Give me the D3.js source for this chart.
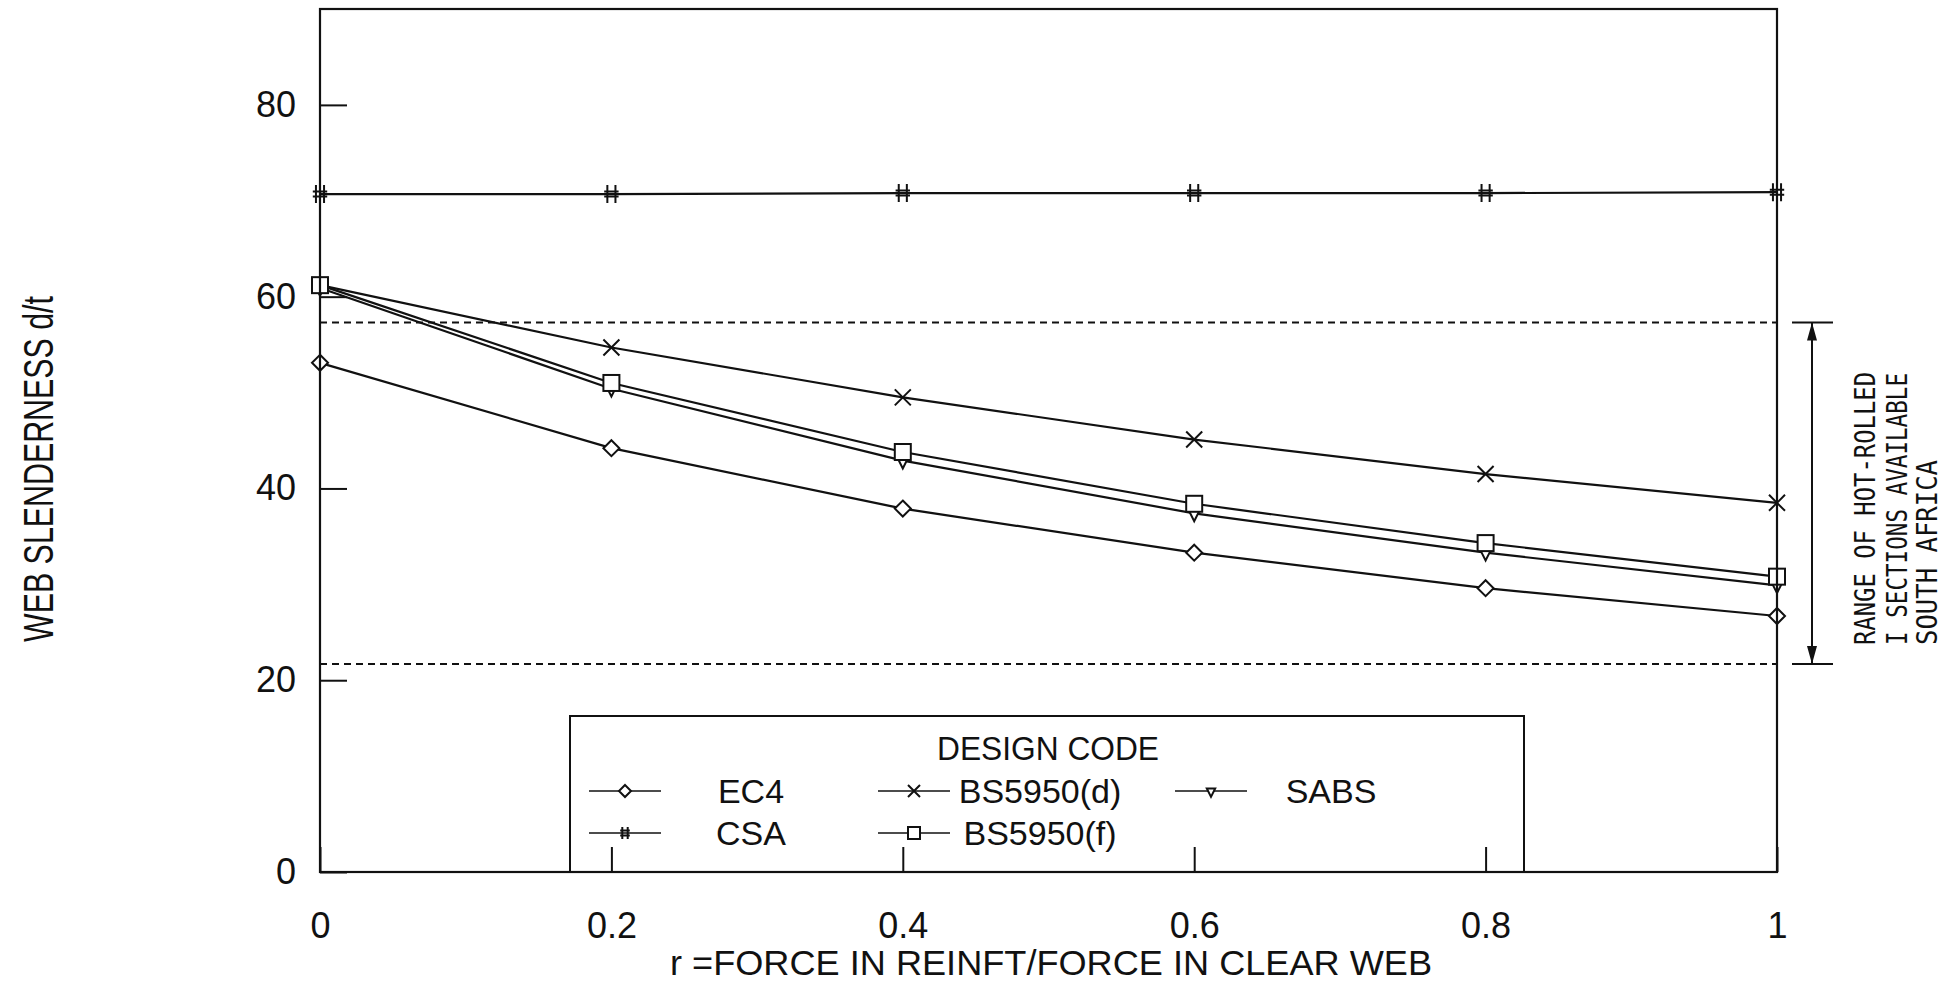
<!DOCTYPE html>
<html>
<head>
<meta charset="utf-8">
<script src="https://cdn.jsdelivr.net/npm/d3@7"></script>
<style>
  body { margin: 0; background: #fff; }
  text { font-family: "Liberation Sans", Arial, sans-serif; fill: #111; }
</style>
</head>
<body>
<script>
// Size of the page and the plot box
let w = 1956;
let h = 990;
let plotLeft = 320, plotRight = 1777, plotTop = 9, plotBottom = 872;

// Data
let rValues = [0, 0.2, 0.4, 0.6, 0.8, 1.0];
let ec4 = [53.1, 44.2, 37.9, 33.3, 29.6, 26.7];
let bs5950d = [61.2, 54.7, 49.5, 45.1, 41.5, 38.5];
let sabs = [60.9, 50.4, 42.9, 37.4, 33.3, 29.9];
let csa = [70.7, 70.7, 70.8, 70.8, 70.8, 70.9];
let bs5950f = [61.2, 51.0, 43.8, 38.4, 34.3, 30.8];

// Range of hot-rolled I sections (dashed lines)
let rangeLimits = [57.3, 21.7];

let xTicks = [0, 0.2, 0.4, 0.6, 0.8, 1];
let yTicks = [0, 20, 40, 60, 80];

let series = [
    { name: "CSA", values: csa, marker: "hash" },
    { name: "EC4", values: ec4, marker: "diamond" },
    { name: "BS5950(d)", values: bs5950d, marker: "cross" },
    { name: "SABS", values: sabs, marker: "triangle" },
    { name: "BS5950(f)", values: bs5950f, marker: "square" }
];

let ink = "#111";

let svg = d3.select("body")
    .append("svg")
    .attr("width", w)
    .attr("height", h);

svg.append("rect").attr("width", w).attr("height", h).attr("fill", "#fff");

let x = d3.scaleLinear().domain([0, 1]).range([plotLeft, plotRight]);
let y = d3.scaleLinear().domain([0, 90]).range([plotBottom, plotTop]);

// Draws one marker symbol centred on (cx, cy)
function drawMarker(g, type, cx, cy, s) {
    let m = g.append("g")
        .attr("transform", "translate(" + cx + "," + cy + ")")
        .attr("stroke", ink)
        .attr("stroke-width", 2)
        .attr("fill", "#fff");
    if (type === "diamond") {
        m.append("path").attr("d", "M0," + (-s) + "L" + s + ",0L0," + s + "L" + (-s) + ",0Z");
    } else if (type === "square") {
        m.append("rect").attr("x", -s).attr("y", -s).attr("width", 2 * s).attr("height", 2 * s);
    } else if (type === "cross") {
        m.append("path").attr("d", "M" + (-s) + "," + (-s) + "L" + s + "," + s + "M" + (-s) + "," + s + "L" + s + "," + (-s));
    } else if (type === "triangle") {
        let t = s * 0.7;
        m.append("path").attr("d", "M" + (-t) + "," + (-t * 0.6) + "L" + t + "," + (-t * 0.6) + "L0," + (t * 1.4) + "Z");
    } else if (type === "hash") {
        let b = s * 0.45;
        m.append("path").attr("d",
            "M" + (-b) + "," + (-s) + "L" + (-b) + "," + s + "M" + b + "," + (-s) + "L" + b + "," + s +
            "M" + (-s * 0.8) + ",-2.5L" + (s * 0.8) + ",-2.5M" + (-s * 0.8) + ",2.5L" + (s * 0.8) + ",2.5");
    }
}

// Dashed lines for the range of hot-rolled sections
svg.selectAll("line.range")
    .data(rangeLimits)
    .enter()
    .append("line")
    .attr("class", "range")
    .attr("x1", x(0))
    .attr("x2", x(1))
    .attr("y1", d => y(d))
    .attr("y2", d => y(d))
    .attr("stroke", ink)
    .attr("stroke-width", 2)
    .attr("stroke-dasharray", "7,5");

// Series lines
let line = d3.line()
    .x((d, i) => x(rValues[i]))
    .y(d => y(d));

series.forEach(function(s) {
    svg.append("path")
        .attr("d", line(s.values))
        .attr("fill", "none")
        .attr("stroke", ink)
        .attr("stroke-width", 2.2);
});

// Markers on every point
series.forEach(function(s) {
    s.values.forEach(function(v, i) {
        let size = s.marker === "hash" ? 9 : 8;
        drawMarker(svg, s.marker, x(rValues[i]), y(v), size);
    });
});

// Legend box
let lg = svg.append("g");
lg.append("rect")
    .attr("x", 570).attr("y", 716)
    .attr("width", 954).attr("height", plotBottom - 716)
    .attr("fill", "#fff")
    .attr("stroke", ink)
    .attr("stroke-width", 2);

lg.append("text")
    .attr("x", 1048).attr("y", 760)
    .attr("text-anchor", "middle")
    .style("font-size", "34px")
    .attr("textLength", 222)
    .attr("lengthAdjust", "spacingAndGlyphs")
    .text("DESIGN CODE");

let legendItems = [
    { s: series[1], col: 0, row: 0 },
    { s: series[2], col: 1, row: 0 },
    { s: series[3], col: 2, row: 0 },
    { s: series[0], col: 0, row: 1 },
    { s: series[4], col: 1, row: 1 }
];
let colSym = [625, 914, 1211];
let colText = [751, 1040, 1331];
let rowY = [791, 833];

legendItems.forEach(function(it) {
    let cx = colSym[it.col], cy = rowY[it.row];
    lg.append("line")
        .attr("x1", cx - 36).attr("x2", cx + 36)
        .attr("y1", cy).attr("y2", cy)
        .attr("stroke", ink).attr("stroke-width", 1.6);
    drawMarker(lg, it.s.marker, cx, cy, 6);
    lg.append("text")
        .attr("x", colText[it.col]).attr("y", cy + 12)
        .attr("text-anchor", "middle")
        .style("font-size", "34px")
        .text(it.s.name);
});

// Frame around the plot
svg.append("rect")
    .attr("x", plotLeft).attr("y", plotTop)
    .attr("width", plotRight - plotLeft).attr("height", plotBottom - plotTop)
    .attr("fill", "none")
    .attr("stroke", ink)
    .attr("stroke-width", 2.2);

// Axes, ticks pointing into the plot
let xAxis = d3.axisBottom(x)
    .tickValues(xTicks)
    .tickSize(-25)
    .tickSizeOuter(0)
    .tickPadding(40)
    .tickFormat(d3.format(""));

let yAxis = d3.axisLeft(y)
    .tickValues(yTicks)
    .tickSize(-27)
    .tickSizeOuter(0)
    .tickPadding(24);

let gx = svg.append("g").attr("transform", "translate(0," + plotBottom + ")").call(xAxis);
let gy = svg.append("g").attr("transform", "translate(" + plotLeft + ",0)").call(yAxis);

[gx, gy].forEach(function(g) {
    g.select(".domain").remove();
    g.selectAll(".tick line").attr("stroke", ink).attr("stroke-width", 2);
    g.selectAll(".tick text")
        .style("font-family", "'Liberation Sans', Arial, sans-serif")
        .style("font-size", "36px")
        .attr("fill", ink);
});

// Axis titles
svg.append("text")
    .attr("x", 1051).attr("y", 975)
    .attr("text-anchor", "middle")
    .style("font-size", "35px")
    .attr("textLength", 762)
    .attr("lengthAdjust", "spacingAndGlyphs")
    .text("r  =FORCE IN REINFT/FORCE IN CLEAR WEB");

svg.append("text")
    .attr("transform", "translate(53,469) rotate(-90)")
    .attr("text-anchor", "middle")
    .style("font-size", "42px")
    .attr("textLength", 346)
    .attr("lengthAdjust", "spacingAndGlyphs")
    .text("WEB SLENDERNESS d/t");

// Bracket showing the range of sections
let bx = 1812;
let yHi = y(rangeLimits[0]), yLo = y(rangeLimits[1]);
svg.selectAll("line.cap")
    .data(rangeLimits)
    .enter()
    .append("line")
    .attr("x1", 1792).attr("x2", 1833)
    .attr("y1", d => y(d)).attr("y2", d => y(d))
    .attr("stroke", ink).attr("stroke-width", 2);

svg.append("line")
    .attr("x1", bx).attr("x2", bx)
    .attr("y1", yHi).attr("y2", yLo)
    .attr("stroke", ink).attr("stroke-width", 2);

svg.append("path")
    .attr("d", "M" + bx + "," + yHi + "l-5,18l10,0Z" + "M" + bx + "," + yLo + "l-5,-18l10,0Z")
    .attr("fill", ink);

// Rotated note beside the bracket
let noteLines = ["RANGE OF HOT-ROLLED", "I SECTIONS AVAILABLE", "SOUTH AFRICA"];
let noteX = [1875, 1907, 1937];
let noteLen = [273, 272, 185];
noteLines.forEach(function(t, i) {
    svg.append("text")
        .attr("transform", "translate(" + noteX[i] + ",645) rotate(-90)")
        .style("font-family", "'DejaVu Sans Mono', monospace")
        .style("font-size", "29px")
        .attr("textLength", noteLen[i])
        .attr("lengthAdjust", "spacingAndGlyphs")
        .text(t);
});
</script>
</body>
</html>
